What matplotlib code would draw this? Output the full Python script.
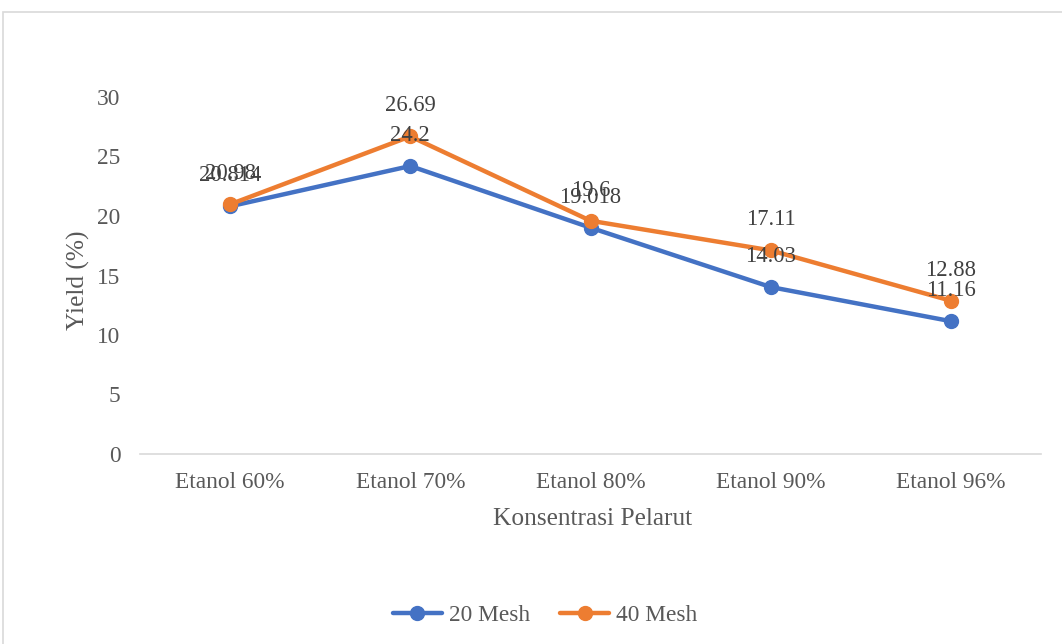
import matplotlib
matplotlib.use("Agg")
import matplotlib.pyplot as plt
from matplotlib.patches import Rectangle

categories = ["Etanol 60%", "Etanol 70%", "Etanol 80%", "Etanol 90%", "Etanol 96%"]
mesh20 = [20.814, 24.2, 19.018, 14.03, 11.16]
mesh40 = [20.98, 26.69, 19.6, 17.11, 12.88]
mesh20_labels = ["20.814", "24.2", "19.018", "14.03", "11.16"]
mesh40_labels = ["20.98", "26.69", "19.6", "17.11", "12.88"]
yticks = [0, 5, 10, 15, 20, 25, 30]

BLUE = "#4472C4"
ORANGE = "#ED7D31"
TEXT = "#595959"
plt.rcParams["font.family"] = ["Liberation Serif", "DejaVu Serif"]

W, H = 1062, 644
fig = plt.figure(figsize=(W / 100, H / 100), dpi=100)

# chart area frame
fig.patches.append(Rectangle((3 / W, -0.1), 1.2, 1 - 12 / H + 0.1,
                             transform=fig.transFigure, fill=False,
                             edgecolor="#D9D9D9", linewidth=1.2))

ax = fig.add_axes([140 / W, 1 - 454 / H, 901 / W, (454 - 97) / H])
x = list(range(len(categories)))

ax.plot(x, mesh20, color=BLUE, lw=3.2, marker="o", ms=10, label="20 Mesh",
        solid_capstyle="round", clip_on=False, zorder=3)
ax.plot(x, mesh40, color=ORANGE, lw=3.2, marker="o", ms=10, label="40 Mesh",
        solid_capstyle="round", clip_on=False, zorder=4)

for xi, v, s in zip(x, mesh20, mesh20_labels):
    ax.annotate(s, (xi, v), xytext=(0, 22), textcoords="offset points",
                ha="center", va="center", fontsize=16.3, color="#404040", zorder=5)
for xi, v, s in zip(x, mesh40, mesh40_labels):
    ax.annotate(s, (xi, v), xytext=(0, 22), textcoords="offset points",
                ha="center", va="center", fontsize=16.3, color="#404040", zorder=5)

ax.set_xlim(-0.5, len(categories) - 0.5)
ax.set_ylim(0, 30)
ax.set_yticks(yticks)
ax.set_xticks(x)
ax.set_xticklabels(categories)
ax.tick_params(axis="both", length=0, labelsize=16.8, labelcolor=TEXT)
ax.tick_params(axis="y", pad=14)
ax.tick_params(axis="x", pad=13)

for side in ["top", "right", "left"]:
    ax.spines[side].set_visible(False)
ax.spines["bottom"].set_color("#D9D9D9")
ax.spines["bottom"].set_linewidth(1.2)

fig.text(593 / W, 1 - 519 / H, "Konsentrasi Pelarut", ha="center", va="center",
         fontsize=18.3, color=TEXT)
fig.text(78 / W, 1 - 280 / H, "Yield (%)", ha="center", va="center",
         rotation=90, fontsize=18.3, color=TEXT)

fig.legend(loc="center", bbox_to_anchor=(545 / W, 1 - 615 / H), ncol=2,
           frameon=False, fontsize=16.8, labelcolor=TEXT, handlelength=2.1,
           columnspacing=1.3, handletextpad=0.3)

fig.savefig("out.png", dpi=100)
